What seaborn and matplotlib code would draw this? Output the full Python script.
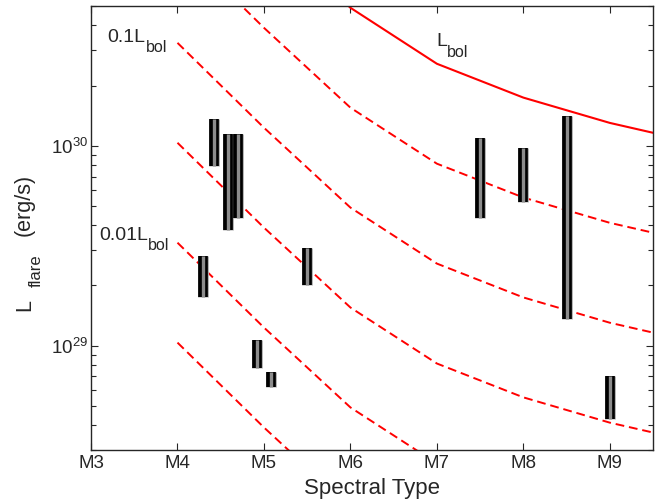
import numpy as np
import pandas as pd
import matplotlib
matplotlib.use("Agg")
import matplotlib.pyplot as plt
import seaborn as sns

# Lbol vs spectral type (solid line) and fractions of it (dashed)
spt_grid = [4.0, 5.0, 6.0, 7.0, 8.0, 9.0, 9.5]
lbol = [3.27e31, 1.23e31, 4.9e30, 2.57e30, 1.74e30, 1.30e30, 1.16e30]
lbol_fractions = [10 ** -0.5, 0.1, 10 ** -1.5, 0.01, 10 ** -2.5]

# flare luminosity ranges per star
flare_spt = [4.30, 4.42, 4.58, 4.70, 4.92, 5.08, 5.50, 7.50, 8.00, 8.50, 9.00]
flare_hi = [2.79e29, 1.36e30, 1.14e30, 1.15e30, 1.07e29, 7.33e28, 3.07e29,
            1.09e30, 9.77e29, 1.41e30, 7.0e28]
flare_lo = [1.75e29, 7.94e29, 3.78e29, 4.37e29, 7.76e28, 6.17e28, 2.0e29,
            4.37e29, 5.25e29, 1.35e29, 4.27e28]

xtick_pos = [3, 4, 5, 6, 7, 8, 9]
xtick_labels = ["M3", "M4", "M5", "M6", "M7", "M8", "M9"]

sns.set_style("ticks")
plt.rcParams["font.family"] = ["Liberation Sans", "DejaVu Sans"]
plt.rcParams["mathtext.default"] = "regular"

fig = plt.figure(figsize=(6.62, 5.0), dpi=100)
ax = fig.add_axes([0.1375, 0.1, 0.849, 0.888])
ax.set_yscale("log")

lines = pd.DataFrame({"spt": spt_grid, "L": lbol})
sns.lineplot(data=lines, x="spt", y="L", ax=ax, color="red", lw=1.5)
for frac in lbol_fractions:
    sub = pd.DataFrame({"spt": spt_grid, "L": np.array(lbol) * frac})
    sns.lineplot(data=sub, x="spt", y="L", ax=ax, color="red", lw=1.4,
                 linestyle=(0, (4.5, 2.5)))

# flare bars: black bar with grey core
ax.vlines(flare_spt, flare_lo, flare_hi, color="#b0b0b0", lw=7.8, capstyle="butt", zorder=3)
ax.vlines(flare_spt, flare_lo, flare_hi, color="black", lw=7.0, capstyle="butt", zorder=4)
ax.vlines(flare_spt, flare_lo, flare_hi, color="#8c8c8c", lw=2.4, capstyle="butt", zorder=5)


def add_sub(main_txt, sub, size, drop):
    # subscript placed right after the main text, bigger than mathtext's
    return ax.annotate(sub, xy=(1, 0), xycoords=main_txt, xytext=(0.2, -drop),
                       textcoords="offset points", fontsize=size,
                       ha="left", va="baseline")


t1 = ax.text(3.188, 3.3e30, "0.1L", fontsize=14, ha="left", va="baseline")
add_sub(t1, "bol", 11.5, 4.5)
t2 = ax.text(3.095, 3.39e29, "0.01L", fontsize=14, ha="left", va="baseline")
add_sub(t2, "bol", 11.5, 4.5)
t3 = ax.text(6.99, 3.14e30, "L", fontsize=14, ha="left", va="baseline")
add_sub(t3, "bol", 11.5, 4.5)

ax.set_xlim(3, 9.5)
ax.set_ylim(3.0e28, 5.0e30)
ax.set_xticks(xtick_pos)
ax.set_xticklabels(xtick_labels)
ax.tick_params(which="both", direction="in", top=True, right=True, labelsize=13.5, width=0.8)
ax.tick_params(which="major", length=5)
ax.tick_params(axis="x", which="major", pad=3.6)
ax.tick_params(axis="y", which="major", pad=2.2)
ax.tick_params(which="minor", length=3.5)
for sp in ax.spines.values():
    sp.set_linewidth(1.0)

ax.set_xlabel("Spectral Type", fontsize=16)
ax.xaxis.set_label_coords(0.5, -0.062)
ax.set_ylabel("")

# y label: L_flare  (erg/s), rotated, pieces placed in pixels
ykw = dict(rotation=90, rotation_mode="anchor", ha="left", va="baseline")
fig.text(30 / 662, 1 - 311 / 500, "L", fontsize=15.5, **ykw)
fig.text(41 / 662, 1 - 287 / 500, "flare", fontsize=12, **ykw)
fig.text(30 / 662, 1 - 236 / 500, "(erg/s)", fontsize=15.5, **ykw)

fig.savefig("out.png", dpi=100)
